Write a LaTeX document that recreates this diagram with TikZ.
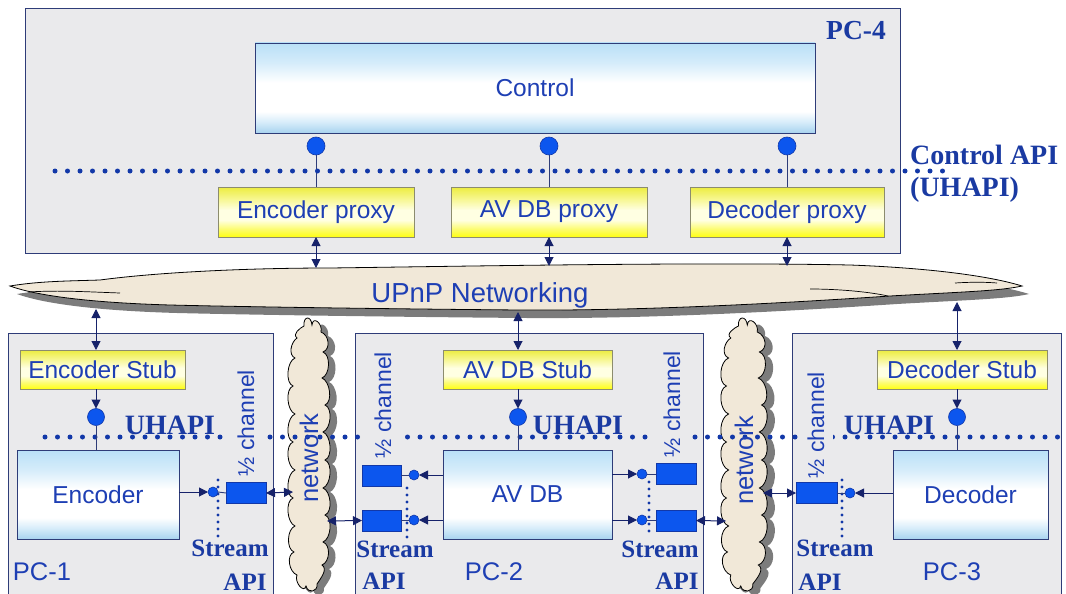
\documentclass[tikz,border=0pt]{standalone}
\usepackage{fontspec}
\setmainfont{Liberation Sans}
\newfontfamily\tms{Liberation Serif}
\usetikzlibrary{arrows.meta}

\newcommand\fsz[1]{\fontsize{#1}{#1}\selectfont}

\definecolor{pcfill}{HTML}{EAEAEC}
\definecolor{pcline}{HTML}{2E3C78}
\definecolor{txt}{HTML}{1E3FB4}
\definecolor{lbl}{HTML}{1A3AA2}
\definecolor{dotc}{HTML}{1238A8}
\definecolor{arr}{HTML}{16226A}
\definecolor{yelline}{HTML}{8C8C6E}
\definecolor{ballc}{HTML}{0C56EE}
\definecolor{cloudfill}{HTML}{F1E8D8}
\definecolor{shadowc}{HTML}{7C7C7C}

% light blue / white / light blue fade for the components
\pgfdeclareverticalshading{bluefade}{100bp}{%
  color(0bp)=(rgb,255:red,168;green,211;blue,239);
  color(25bp)=(rgb,255:red,168;green,211;blue,239);
  color(31bp)=(rgb,255:red,214;green,236;blue,250);
  color(37bp)=(white); color(53bp)=(white);
  color(64bp)=(rgb,255:red,213;green,236;blue,250);
  color(75bp)=(rgb,255:red,185;green,224;blue,247);
  color(100bp)=(rgb,255:red,185;green,224;blue,247)}
% yellow / white / yellow fade for proxies and stubs
\pgfdeclareverticalshading{yelfade}{100bp}{%
  color(0bp)=(rgb,255:red,255;green,255;blue,16);
  color(25bp)=(rgb,255:red,255;green,255;blue,16);
  color(33bp)=(rgb,255:red,252;green,252;blue,112);
  color(42bp)=(rgb,255:red,255;green,255;blue,226);
  color(52bp)=(rgb,255:red,255;green,255;blue,226);
  color(64bp)=(rgb,255:red,246;green,246;blue,138);
  color(75bp)=(rgb,255:red,236;green,236;blue,64);
  color(100bp)=(rgb,255:red,236;green,236;blue,64)}

\tikzset{
  pcbox/.style={draw=pcline, line width=0.8pt, fill=pcfill, inner sep=0pt, outer sep=0pt},
  bluebox/.style={draw=pcline, line width=0.8pt, shading=bluefade,
    text=txt, font=\fsz{24.5}, inner sep=0pt, outer sep=0pt},
  yelbox/.style={draw=yelline, line width=0.9pt, shading=yelfade,
    text=txt, font=\fsz{24.5}, inner sep=0pt, outer sep=0pt},
  ball/.style={circle, draw=dotc, line width=0.6pt, fill=ballc, minimum size=#1, inner sep=0pt, outer sep=0pt},
  chan/.style={draw=dotc, line width=0.6pt, fill=ballc, minimum width=40pt, minimum height=21pt,
    inner sep=0pt, outer sep=0pt},
  sa/.style={draw=arr, line width=1pt, -{Triangle[length=9pt,width=9pt]}},
  da/.style={draw=arr, line width=1pt, {Triangle[length=9pt,width=9pt]}-{Triangle[length=9pt,width=9pt]}},
  stem/.style={draw=pcline, line width=0.9pt},
  hdots/.style={draw=dotc, line width=5pt, line cap=round, dash pattern=on 0pt off 12.5pt},
  vdots/.style={draw=dotc, line width=3.2pt, line cap=round, dash pattern=on 0pt off 7pt},
  half/.style={rotate=90, fill=pcfill, text=txt, font=\fsz{23}, inner xsep=1pt, inner ysep=9pt},
  plain/.style={text=txt, font=\fsz{25.5}, inner sep=0pt},
  blab/.style={text=lbl, font=\tms\bfseries\fsz{28}, inner sep=0pt},
  slab/.style={text=lbl, font=\tms\bfseries\fsz{25}, inner sep=0pt},
  cloudline/.style={draw=black, line width=0.8pt, fill=cloudfill},
  cloudshadow/.style={fill=shadowc},
}

\begin{document}
\begin{tikzpicture}[x=1pt,y=-1pt]
\useasboundingbox (0,0) rectangle (1066,594);
\clip (0,0) rectangle (1066,594);

% ---- computers ----
\node[pcbox, minimum width=875pt, minimum height=245pt] (pc4) at (462.5,130.5) {};
\node[pcbox, minimum width=265pt, minimum height=275pt] (pc1) at (140.5,470.5) {};
\node[pcbox, minimum width=348pt, minimum height=275pt] (pc2) at (529,470.5) {};
\node[pcbox, minimum width=269pt, minimum height=275pt] (pc3) at (926.5,470.5) {};

% ---- UPnP networking cloud ----
\def\upnppath{(10,286) .. controls (40,281) and (70,281) .. (100,280)
  .. controls (160,272) and (250,268) .. (330,268)
  .. controls (480,266) and (700,262) .. (850,265)
  .. controls (930,268) and (990,276) .. (1022,286)
  .. controls (1000,291) and (960,292) .. (890,296)
  .. controls (800,302) and (650,311) .. (520,310)
  .. controls (400,309) and (250,307) .. (170,305)
  .. controls (100,303) and (40,297) .. cycle}
\fill[cloudshadow, shift={(7,8)}] \upnppath;
\draw[cloudline] \upnppath;
\draw[line width=0.7pt] (28,292) .. controls (60,290) and (90,292) .. (120,293);
\draw[line width=0.7pt] (955,283) .. controls (970,282) and (985,282) .. (997,283);
\draw[line width=0.7pt] (810,289) .. controls (840,289) and (870,292) .. (888,296);
\node[text=txt, font=\fsz{27.5}, inner sep=0pt] (upnp) at (480,295) {UPnP Networking};

% ---- network clouds (scalloped outline) ----
\def\netpath{(-5,326) .. controls +(-1,-10) and +(-1,-10) .. (3,325)
  .. controls +(1,-10) and +(2,-8) .. (12,332)
  .. controls +(8,3) and +(8,-3) .. (14,352)
  .. controls +(8,3) and +(8,-3) .. (13,378)
  .. controls +(8,3) and +(8,-3) .. (16,405)
  .. controls +(8,3) and +(8,-3) .. (14,432)
  .. controls +(8,3) and +(8,-3) .. (16,460)
  .. controls +(8,3) and +(8,-3) .. (14,488)
  .. controls +(8,3) and +(8,-3) .. (16,515)
  .. controls +(8,3) and +(8,-3) .. (14,542)
  .. controls +(8,3) and +(8,-3) .. (13,565)
  .. controls +(6,4) and +(4,-6) .. (8,584)
  .. controls +(1,8) and +(2,8) .. (-3,586)
  .. controls +(-2,8) and +(-3,7) .. (-12,575)
  .. controls +(-8,-3) and +(-8,3) .. (-15,552)
  .. controls +(-8,-3) and +(-8,3) .. (-14,526)
  .. controls +(-8,-3) and +(-8,3) .. (-16,498)
  .. controls +(-8,-3) and +(-8,3) .. (-14,470)
  .. controls +(-8,-3) and +(-8,3) .. (-16,442)
  .. controls +(-8,-3) and +(-8,3) .. (-14,414)
  .. controls +(-8,-3) and +(-8,3) .. (-16,386)
  .. controls +(-8,-3) and +(-8,3) .. (-14,358)
  .. controls +(-7,-3) and +(-6,4) .. (-12,338)
  .. controls +(-5,-4) and +(-4,2) .. cycle}
\begin{scope}[shift={(309,0)}]
  \fill[cloudshadow, shift={(7,4)}] \netpath;
  \draw[cloudline] \netpath;
\end{scope}
\begin{scope}[shift={(744,0)}, xscale=1.1]
  \fill[cloudshadow, shift={(7,4)}] \netpath;
  \draw[cloudline] \netpath;
\end{scope}
\coordinate (n1w) at (293,492);
\coordinate (n1e) at (327,521);
\coordinate (n2w) at (726,521);
\coordinate (n2e) at (763,493);

% ---- PC-4 : control and proxies ----
\node[bluebox, minimum width=560pt, minimum height=90pt] (control) at (535,88) {Control};
\node[yelbox, minimum width=196pt, minimum height=50pt] (encproxy) at (316,212) {Encoder proxy};
\node[yelbox, minimum width=196pt, minimum height=50pt] (avproxy) at (549,212) {AV DB proxy};
\node[yelbox, minimum width=194pt, minimum height=50pt] (decproxy) at (787,212) {Decoder proxy};

\node[ball=18pt] (c1) at (316,146) {};
\node[ball=18pt] (c2) at (549,146) {};
\node[ball=18pt] (c3) at (787,146) {};
\draw[stem] (c1.south) -- (encproxy.north);
\draw[stem] (c2.south) -- (avproxy.north);
\draw[stem] (c3.south) -- (decproxy.north);

\node[blab, font=\tms\bfseries\fsz{27.5}] (pc4lab) at (856,31) {PC-4};

% ---- stubs and components ----
\node[yelbox, minimum width=165pt, minimum height=39pt] (encstub) at (102.5,369.5) {Encoder Stub};
\node[yelbox, minimum width=169pt, minimum height=39pt] (avstub) at (527.5,369.5) {AV DB Stub};
\node[yelbox, minimum width=170pt, minimum height=39pt] (decstub) at (962,369.5) {Decoder Stub};

\node[bluebox, minimum width=162pt, minimum height=89pt] (enc) at (98,494.5) {Encoder};
\node[bluebox, minimum width=169pt, minimum height=89pt] (avdb) at (527.5,494.5) {AV DB};
\node[bluebox, minimum width=155pt, minimum height=89pt] (dec) at (970.5,494.5) {Decoder};

\node[ball=17pt] (l1) at (96,417) {};
\node[ball=17pt] (l2) at (518,417) {};
\node[ball=17pt] (l3) at (957,417) {};

% ---- dotted API lines ----
\draw[hdots] (55,171) -- (945,171);
\draw[hdots] (45,437) -- (1066,437);

\draw[stem] (l1.south) -- (enc.north -| l1);
\draw[stem] (l2.south) -- (avdb.north -| l2);
\draw[stem] (l3.south) -- (dec.north -| l3);
\draw[sa] (encstub.south -| l1) -- (l1.north);
\draw[sa] (avstub.south -| l2) -- (l2.north);
\draw[sa] (decstub.south -| l3) -- (l3.north);

% ---- links to the UPnP cloud ----
\coordinate (u1) at (316,268);
\coordinate (u2) at (549,266);
\coordinate (u3) at (787,266);
\draw[da] (encproxy.south) -- (u1);
\draw[da] (avproxy.south) -- (u2);
\draw[da] (decproxy.south) -- (u3);
\coordinate (d1) at (96,309);
\coordinate (d2) at (518,312);
\coordinate (d3) at (957,302);
\draw[da] (d1) -- (encstub.north -| d1);
\draw[da] (d2) -- (avstub.north -| d2);
\draw[da] (d3) -- (decstub.north -| d3);

% ---- half channels ----
\node[half] (h1) at (246,423) {½ channel};
\node[half] (h2) at (383,405) {½ channel};
\node[half] (h3) at (672,404) {½ channel};
\node[half] (h4) at (816,425) {½ channel};

% PC-1 stream side
\draw[vdots] (218,480) -- (218,540);
\node[ball=10pt] (s1) at (213,492) {};
\node[chan] (r1) at (246,493) {};
\draw[sa] (enc.east |- s1) -- (s1.west);
\draw[stem] (s1.east) -- (r1.west);
\draw[da] (r1.east) -- (n1w);

% PC-2 stream sides
\draw[vdots] (407,488) -- (407,540);
\draw[vdots] (649,482) -- (649,538);
\node[ball=10pt] (s2a) at (414,475) {};
\node[ball=10pt] (s2b) at (414,520) {};
\node[chan, minimum width=39pt] (r2a) at (381.5,476) {};
\node[chan, minimum width=39pt] (r2b) at (381.5,520.5) {};
\draw[sa] (avdb.west |- s2a) -- (s2a.east);
\draw[sa] (avdb.west |- s2b) -- (s2b.east);
\draw[stem] (s2a.west) -- (r2a.east |- s2a);
\draw[stem] (s2b.west) -- (r2b.east |- s2b);
\draw[da] (n1e) -- (r2b.west);

\node[ball=10pt] (s3a) at (642,474) {};
\node[ball=10pt] (s3b) at (642,520) {};
\node[chan] (r3a) at (676,473.5) {};
\node[chan] (r3b) at (676,520.5) {};
\draw[sa] (avdb.east |- s3a) -- (s3a.west);
\draw[sa] (avdb.east |- s3b) -- (s3b.west);
\draw[stem] (s3a.east) -- (r3a.west |- s3a);
\draw[stem] (s3b.east) -- (r3b.west |- s3b);
\draw[da] (r3b.east) -- (n2w);

% PC-3 stream side
\draw[vdots] (842,480) -- (842,540);
\node[ball=10pt] (s4) at (850,493) {};
\node[chan, minimum width=41pt] (r4) at (816.5,493) {};
\draw[sa] (dec.west |- s4) -- (s4.east);
\draw[stem] (s4.west) -- (r4.east);
\draw[da] (n2e) -- (r4.west);

% ---- texts ----
\node[text=txt, font=\fsz{25.5}, rotate=90, inner sep=0pt] (net1) at (309,458) {network};
\node[text=txt, font=\fsz{25.5}, rotate=90, inner sep=0pt] (net2) at (744,460) {network};

\node[blab, anchor=west] (capi) at (910,155) {Control API};
\node[blab, anchor=west] (capi2) at (910,190) {(UHAPI)};

\node[blab] (uh1) at (170,425) {UHAPI};
\node[blab] (uh2) at (578,425) {UHAPI};
\node[blab] (uh3) at (889,425) {UHAPI};

\node[slab] (st1) at (230,548) {Stream};
\node[slab] (st2) at (395,549) {Stream};
\node[slab] (st3) at (660,549) {Stream};
\node[slab] (st4) at (835,548) {Stream};
\node[slab] (ap1) at (245,582) {API};
\node[slab] (ap2) at (384,581) {API};
\node[slab] (ap3) at (677,581) {API};
\node[slab] (ap4) at (820,582) {API};

\node[plain] (pc1lab) at (42,572) {PC-1};
\node[plain] (pc2lab) at (494,572) {PC-2};
\node[plain] (pc3lab) at (952,572) {PC-3};
\end{tikzpicture}
\end{document}
